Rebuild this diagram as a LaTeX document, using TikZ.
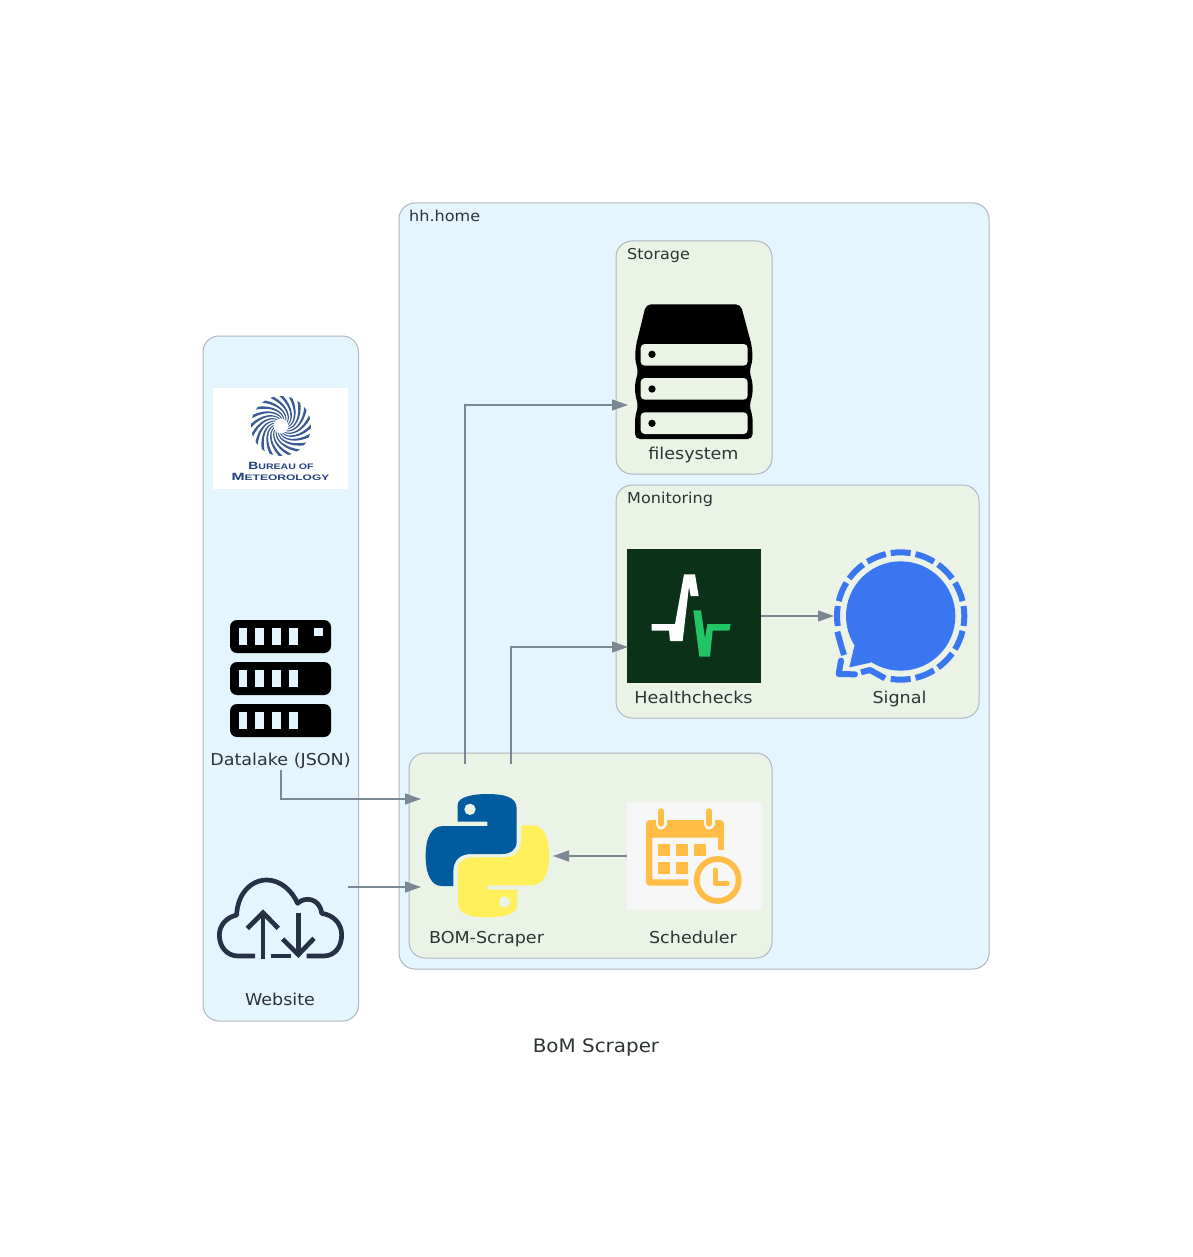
\documentclass[tikz,border=0pt]{standalone}
\usepackage{fontspec}
\setmainfont{DejaVu Sans}
\newfontfamily\labfont[FakeStretch=1.07]{DejaVu Sans}
\newfontfamily\logofont{Liberation Sans}
\usetikzlibrary{arrows.meta}
\definecolor{clusterblue}{HTML}{E5F5FD}
\definecolor{clustergreen}{HTML}{EBF3E7}
\definecolor{clusterline}{HTML}{AEB6BE}
\definecolor{edgecol}{HTML}{7B8894}
\definecolor{txt}{HTML}{2D3436}
\definecolor{bomblue}{HTML}{3A5A94}
\definecolor{bomtext}{HTML}{24417F}
\definecolor{cloudcol}{HTML}{253245}
\definecolor{pyblue}{HTML}{015B9F}
\definecolor{pyyellow}{HTML}{FFEF5A}
\definecolor{calcol}{HTML}{FFBD45}
\definecolor{calbg}{HTML}{F6F6F6}
\definecolor{hcbg}{HTML}{0B3119}
\definecolor{hcgreen}{HTML}{22C564}
\definecolor{sigblue}{HTML}{3A76F0}
\tikzset{
  blueclust/.style={draw=clusterline,fill=clusterblue,line width=1pt,rounded corners=16pt},
  greenclust/.style={draw=clusterline,fill=clustergreen,line width=1pt,rounded corners=16pt},
  lab/.style={anchor=base,inner sep=0pt,text=txt,font=\labfont\fontsize{16.4}{18}\selectfont},
  clab/.style={anchor=base west,inner sep=0pt,text=txt,font=\labfont\fontsize{15}{18}\selectfont},
  flow/.style={draw=edgecol,line width=1.1pt,-{Triangle[length=16pt,width=11pt]}},
  cloudline/.style={draw=cloudcol,line width=4.7pt},
  sigdash/.style={draw=sigblue,line width=6pt,line join=round},
}
\begin{document}
\begin{tikzpicture}[x=1pt,y=-1pt]
\useasboundingbox (0,0) rectangle (1192,1257);
% clusters
\draw[blueclust] (203,336) rectangle (358.5,1021);
\draw[blueclust] (399,203) rectangle (989,969);
\draw[greenclust] (616,241) rectangle (772,474);
\draw[greenclust] (616,485) rectangle (979,718);
\draw[greenclust] (409,753) rectangle (772,958);
\node[clab] (hhlabel) at (409,221.5) {hh.home};
\node[clab] (storagelabel) at (627,259) {Storage};
\node[clab] (monitoringlabel) at (627,503) {Monitoring};
% BoM logo
\fill[white] (213,388) rectangle (348,489);
\begin{scope}[shift={(281,426)}]
\foreach \a in {0,18,...,342}{
  \fill[bomblue,rotate=\a] (7.5,0) .. controls (13.5,-3.6) and (15.6,-15.6) .. (7.76,-28.98)
     -- (11.4,-27.7) .. controls (17.5,-14) and (14.5,-2.2) .. (7.2,1.2) -- cycle;
}
\fill[white] (0,0) circle (6.5);
\end{scope}
\node[inner sep=0pt,text=bomtext,anchor=base] (bomline1) at (281,469) {\logofont\bfseries\scalebox{1.32}[1]{\fontsize{10.5}{10}\selectfont B\fontsize{8}{10}\selectfont UREAU OF}};
\node[inner sep=0pt,text=bomtext,anchor=base] (bomline2) at (280.5,480) {\logofont\bfseries\scalebox{1.5}[1]{\fontsize{10.5}{10}\selectfont M\fontsize{8}{10}\selectfont ETEOROLOGY}};
% Datalake icon
\begin{scope}
\foreach \t/\b in {620/653,662/695,704/737}{
  \fill[black,rounded corners=7pt] (230,\t) rectangle (331,\b);
  \foreach \s in {238.5,255.3,272.2,289}{
    \fill[clusterblue] (\s,\t+7.7) rectangle (\s+8.7,\t+25.2);
  }
}
\fill[clusterblue] (314.3,627.7) rectangle (322.7,636.3);
\end{scope}
\node[lab] (datalake) at (280.5,765) {Datalake (JSON)};
% Website cloud
\begin{scope}[shift={(205,860)},scale=1/3]
\draw[cloudline,line join=round] (150,288) -- (100,288) .. controls (65,288) and (43,260) .. (43,225)
  .. controls (43,195) and (65,172) .. (95,165)
  .. controls (97,105) and (135,60) .. (185,60)
  .. controls (225,60) and (260,90) .. (278,130)
  .. controls (300,108) and (345,115) .. (350,160)
  .. controls (385,165) and (410,190) .. (410,225)
  .. controls (410,260) and (390,288) .. (355,288) -- (305,288);
\draw[cloudline] (198,288) -- (257,288);
\draw[cloudline] (174,296) -- (174,160);
\draw[cloudline] (127,205) -- (174,158) -- (220,205);
\draw[cloudline] (280,158) -- (280,284);
\draw[cloudline] (233,237) -- (280,284) -- (327,235);
\end{scope}
\node[lab] (website) at (280,1005) {Website};
% Python
\begin{scope}[shift={(410,780)},scale=1/3]
\fill[pyblue] (143,125) -- (143,75) .. controls (143,50) and (190,42) .. (232,42)
  .. controls (280,42) and (320,50) .. (320,85) -- (320,185)
  .. controls (320,210) and (300,222) .. (275,222) -- (185,222)
  .. controls (150,222) and (130,240) .. (130,275) -- (130,318) -- (95,318)
  .. controls (65,318) and (47,285) .. (47,228)
  .. controls (47,170) and (65,138) .. (100,138) -- (232,138) -- (232,125) -- cycle;
\fill[clustergreen] (180,88) circle (17);
\begin{scope}[rotate around={180:(232,227)}]
\fill[pyyellow] (143,125) -- (143,75) .. controls (143,50) and (190,42) .. (232,42)
  .. controls (280,42) and (320,50) .. (320,85) -- (320,185)
  .. controls (320,210) and (300,222) .. (275,222) -- (185,222)
  .. controls (150,222) and (130,240) .. (130,275) -- (130,318) -- (95,318)
  .. controls (65,318) and (47,285) .. (47,228)
  .. controls (47,170) and (65,138) .. (100,138) -- (232,138) -- (232,125) -- cycle;
\fill[clustergreen] (180,88) circle (17);
\end{scope}
\end{scope}
\node[lab] (bomscraper) at (486.5,943) {BOM-Scraper};
% Scheduler
\fill[calbg] (627,802) rectangle (762,910);
\begin{scope}[shift={(620,795)},scale=1/3]
\fill[calcol] (78,128) -- (78,90) .. controls (78,80) and (83,75) .. (93,75) -- (297,75)
  .. controls (307,75) and (312,80) .. (312,90) -- (312,128) -- cycle;
\fill[calcol] (78,120) -- (97,120) -- (97,253) -- (205,253) -- (205,272) -- (90,272)
  .. controls (82,272) and (78,268) .. (78,260) -- cycle;
\fill[calcol] (294,120) rectangle (312,165);
\foreach \x in {114,168,222}{\fill[calcol] (\x,147) rectangle (\x+36,183);}
\foreach \x in {114,168}{\fill[calcol] (\x,201) rectangle (\x+36,237);}
\foreach \x in {123,267}{
  \draw[calbg,line width=11pt,line cap=round] (\x,60) -- (\x,87);
  \draw[calcol,line width=6pt,line cap=round] (\x,49) -- (\x,86);
}
\fill[calbg] (293,255) circle (80);
\draw[calcol,line width=5.8pt] (293,255) circle (63);
\draw[calcol,line width=5pt,line cap=round,line join=round] (285,225) -- (285,265) -- (322,265);
\end{scope}
\node[lab] (scheduler) at (693,943) {Scheduler};
% Filesystem
\begin{scope}[shift={(620,295)},scale=1/3]
\fill[black,rounded corners=5pt] (78,28) -- (362,28) -- (396,155) -- (398,195) -- (388,230) -- (398,262)
  -- (398,298) -- (388,332) -- (398,365) -- (398,432) -- (45,432) -- (45,365) -- (55,332) -- (45,298)
  -- (45,262) -- (55,230) -- (45,195) -- (47,155) -- cycle;
\foreach \t/\d in {147/178,249/282,352/385}{
  \fill[clustergreen,rounded corners=4pt] (62,\t) rectangle (383,\t+65);
  \fill[black] (96,\d) circle (11);
}
\end{scope}
\node[lab] (filesystem) at (693.5,459) {filesystem};
% Healthchecks
\fill[hcbg] (627,549) rectangle (761,683);
\begin{scope}[shift={(620,540)},scale=1/3]
\fill[white] (95,252) -- (165,252) -- (192,103) -- (225,103) -- (236,168) -- (212,168) -- (207,140)
  -- (188,303) -- (150,303) -- (147,272) -- (95,272) -- cycle;
\fill[hcgreen] (220,211) -- (243,211) -- (255,295) -- (262,252) -- (332,252) -- (328,272) -- (278,272)
  -- (270,350) -- (238,350) -- cycle;
\end{scope}
\node[lab] (healthchecks) at (693.5,703) {Healthchecks};
% Signal
\begin{scope}[shift={(820,540)},scale=1/3]
\fill[sigblue] (242,228) circle (164);
\fill[sigblue] (103,318) -- (88,382) -- (152,368) -- (170,300) -- cycle;
\foreach \a in {0,22.5,45,67.5,90,112.5,135,157.5,180,270,292.5,315,337.5}{
  \draw[sigblue,line width=6pt] ({242+191*cos(\a-9)},{228-191*sin(\a-9)})
     arc[start angle=-(\a-9),end angle=-(\a+9),radius=191];
}
\draw[sigdash] (52,275) -- (62,312) -- (72,345);
\draw[sigdash,line cap=round] (63,362) -- (56,402) -- (105,403);
\draw[sigdash] (123,397) -- (150,390) -- (195,415);
\end{scope}
\node[lab] (signal) at (899.5,703) {Signal};
% title
\node[anchor=base,inner sep=0pt,text=txt,font=\labfont\fontsize{18.6}{22}\selectfont] (title) at (596,1052.5) {BoM Scraper};
% ports
\coordinate (dl-out) at (281,770);
\coordinate (py-w1) at (421,799);
\coordinate (web-out) at (348,887);
\coordinate (py-w2) at (421,887);
\coordinate (sch-out) at (627,856);
\coordinate (py-e) at (553,856);
\coordinate (py-n1) at (465,764);
\coordinate (fs-in) at (628,405);
\coordinate (py-n2) at (511,764);
\coordinate (hc-in) at (628,647);
\coordinate (hc-out) at (761,616);
\coordinate (sig-in) at (834,616);
\draw[flow] (dl-out) |- (py-w1);
\draw[flow] (web-out) -- (py-w2);
\draw[flow] (sch-out) -- (py-e);
\draw[flow] (py-n1) |- (fs-in);
\draw[flow] (py-n2) |- (hc-in);
\draw[flow] (hc-out) -- (sig-in);
\end{tikzpicture}
\end{document}
